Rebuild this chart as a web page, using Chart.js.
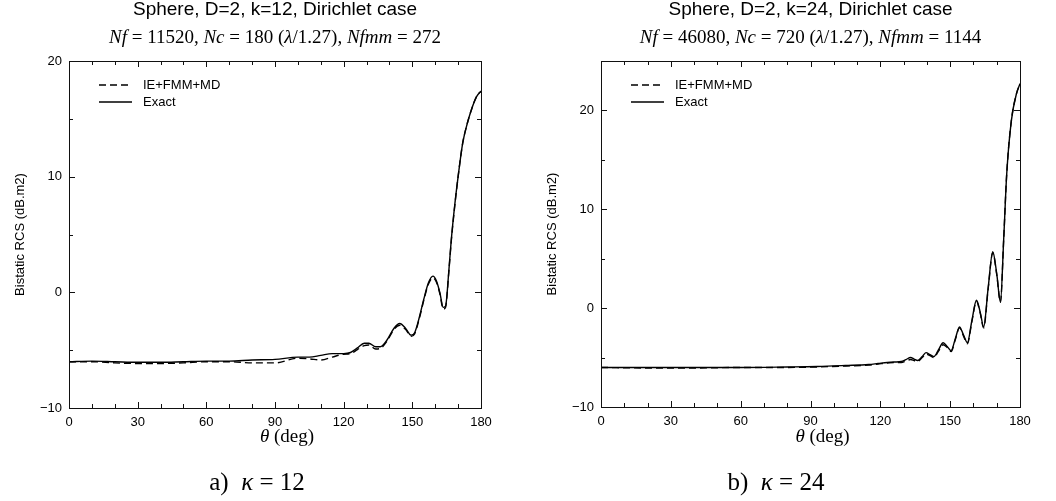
<!DOCTYPE html>
<html>
<head>
<meta charset="utf-8">
<script src="https://cdn.jsdelivr.net/npm/chart.js@4.4.0/dist/chart.umd.min.js"></script>
<style>
  html, body { margin: 0; padding: 0; background: #fff; }
  #wrap { position: relative; width: 1056px; height: 501px; }
  canvas { position: absolute; top: 0; }
</style>
</head>
<body>
<div id="wrap">
  <canvas id="chartA" width="528" height="501" style="left:0"></canvas>
  <canvas id="chartB" width="528" height="501" style="left:528px"></canvas>
</div>
<script>
// --- data, k = 12 ---
const thetaA = [0, 10, 20, 30, 40, 50, 60, 70, 80, 90, 100, 105, 110, 115, 120, 123, 126, 129, 131, 134, 136, 139, 142, 144.5, 147, 149.5, 151, 153, 155, 157, 159, 160.5, 162, 163.5, 164.5, 166, 167, 168.5, 170, 172, 174, 176, 178, 180];
const exactA = [-6.0, -5.95, -6.0, -6.05, -6.05, -6.0, -5.95, -5.95, -5.85, -5.8, -5.6, -5.6, -5.45, -5.3, -5.3, -5.2, -4.8, -4.4, -4.4, -4.7, -4.7, -4.1, -3.1, -2.7, -3.1, -3.7, -3.5, -2.2, -0.6, 0.8, 1.4, 1.0, 0.0, -1.3, -1.2, 2.0, 4.5, 7.5, 10.0, 12.9, 14.6, 15.9, 16.9, 17.4];
const ieA = [-6.0, -6.0, -6.1, -6.15, -6.15, -6.1, -6.0, -6.0, -6.1, -6.1, -5.7, -5.75, -5.85, -5.6, -5.35, -5.3, -4.95, -4.6, -4.55, -4.9, -4.85, -4.2, -3.2, -2.85, -3.2, -3.8, -3.6, -2.3, -0.7, 0.7, 1.25, 0.9, -0.1, -1.45, -1.3, 1.9, 4.4, 7.4, 10.0, 12.9, 14.6, 15.9, 16.9, 17.4];

// --- data, k = 24 ---
const thetaB = [0, 20, 40, 60, 80, 93, 105, 115, 119, 123, 126, 129, 131, 133, 134.5, 136, 138, 139.6, 141.3, 143, 145, 147, 148.8, 150.4, 152.2, 154, 155.7, 157.4, 159.3, 161.3, 162.9, 164.4, 166.3, 168.3, 170, 171.6, 173, 174.3, 176.3, 178.5, 180];
const exactB = [-6.0, -6.0, -6.0, -6.0, -5.95, -5.9, -5.8, -5.7, -5.6, -5.5, -5.45, -5.4, -5.2, -5.0, -5.15, -5.3, -4.9, -4.5, -4.7, -4.9, -4.2, -3.5, -3.9, -4.3, -3.1, -1.9, -2.7, -3.5, -1.3, 0.8, -0.4, -1.9, 2.0, 5.7, 3.5, 0.6, 7.0, 13.6, 19.0, 21.7, 22.7];
const ieB = [-6.0, -6.05, -6.05, -6.0, -6.0, -5.95, -5.85, -5.75, -5.65, -5.55, -5.5, -5.5, -5.35, -5.2, -5.3, -5.4, -5.0, -4.65, -4.8, -5.0, -4.35, -3.7, -4.0, -4.4, -3.2, -2.0, -2.8, -3.6, -1.4, 0.7, -0.5, -2.0, 1.9, 5.6, 3.4, 0.6, 7.0, 13.6, 19.0, 21.7, 22.7];

const SANS = '"Liberation Sans", Helvetica, Arial, sans-serif';
const SERIF = '"Liberation Serif", "Times New Roman", serif';

const pts = (xs, ys) => xs.map((x, i) => ({ x: x, y: ys[i] }));

function drawRich(ctx, segs, cx, cy, size) {
    let w = 0;
    segs.forEach(s => {
        ctx.font = (s[1] ? 'italic ' : '') + size + 'px ' + SERIF;
        w += ctx.measureText(s[0]).width;
    });
    let x = cx - w / 2;
    ctx.textAlign = 'left';
    ctx.textBaseline = 'middle';
    segs.forEach(s => {
        ctx.font = (s[1] ? 'italic ' : '') + size + 'px ' + SERIF;
        ctx.fillText(s[0], x, cy);
        x += ctx.measureText(s[0]).width;
    });
}

// frame, inward ticks on all sides, titles, legend
const decor = {
    id: 'decor',
    afterDraw(chart, args, o) {
        const ctx = chart.ctx;
        const ca = chart.chartArea;
        const xs = chart.scales.x, ys = chart.scales.y;
        const mid = (ca.left + ca.right) / 2;
        ctx.save();
        ctx.strokeStyle = '#111';
        ctx.lineWidth = 1;
        ctx.strokeRect(ca.left + 0.5, ca.top + 0.5, ca.right - ca.left, ca.bottom - ca.top);

        ctx.beginPath();
        xs.ticks.forEach(t => {
            const px = Math.round(xs.getPixelForValue(t.value)) + 0.5;
            const len = t.value % 30 === 0 ? 6 : 4;
            ctx.moveTo(px, ca.bottom); ctx.lineTo(px, ca.bottom - len);
            ctx.moveTo(px, ca.top); ctx.lineTo(px, ca.top + len);
        });
        ys.ticks.forEach(t => {
            const py = Math.round(ys.getPixelForValue(t.value)) + 0.5;
            const len = t.value % 10 === 0 ? 6 : 4;
            ctx.moveTo(ca.left, py); ctx.lineTo(ca.left + len, py);
            ctx.moveTo(ca.right, py); ctx.lineTo(ca.right - len, py);
        });
        ctx.stroke();

        ctx.fillStyle = '#000';
        // title
        ctx.font = '19px ' + SANS;
        ctx.textAlign = 'center';
        ctx.textBaseline = 'middle';
        ctx.fillText(o.title, mid, 10);
        // subtitle
        drawRich(ctx, o.sub, mid, 38, 19);
        // x axis title
        drawRich(ctx, [['θ', true], [' (deg)', false]], mid + 12, 437, 19);
        // caption
        drawRich(ctx, o.caption, o.captionX, 483, 25);
        // y axis title
        ctx.save();
        ctx.translate(ca.left - 49, (ca.top + ca.bottom) / 2);
        ctx.rotate(-Math.PI / 2);
        ctx.font = '13px ' + SANS;
        ctx.textAlign = 'center';
        ctx.textBaseline = 'middle';
        ctx.fillText('Bistatic RCS (dB.m2)', 0, 0);
        ctx.restore();

        // legend
        chart.data.datasets.forEach((ds, i) => {
            const ly = ca.top + 24 + i * 17;
            ctx.beginPath();
            ctx.setLineDash(ds.borderDash || []);
            ctx.lineWidth = ds.borderWidth;
            ctx.strokeStyle = ds.borderColor;
            ctx.moveTo(ca.left + 30, ly);
            ctx.lineTo(ca.left + 63, ly);
            ctx.stroke();
            ctx.setLineDash([]);
            ctx.font = '13px ' + SANS;
            ctx.textAlign = 'left';
            ctx.textBaseline = 'middle';
            ctx.fillText(ds.label, ca.left + 74, ly);
        });
        ctx.restore();
    }
};

function makeChart(id, theta, ie, exact, yMax, pad, decorOpts) {
    return new Chart(document.getElementById(id), {
        type: 'line',
        data: {
            datasets: [
                { label: 'IE+FMM+MD', data: pts(theta, ie), borderColor: '#000', borderWidth: 1.4, borderDash: [7, 4], pointRadius: 0, cubicInterpolationMode: 'monotone' },
                { label: 'Exact', data: pts(theta, exact), borderColor: '#000', borderWidth: 1.4, pointRadius: 0, cubicInterpolationMode: 'monotone' }
            ]
        },
        options: {
            responsive: false,
            animation: false,
            devicePixelRatio: 1,
            layout: { padding: pad },
            plugins: { legend: { display: false }, tooltip: { enabled: false }, decor: decorOpts },
            scales: {
                x: {
                    type: 'linear', min: 0, max: 180,
                    grid: { display: false, drawTicks: false },
                    border: { display: false },
                    ticks: { stepSize: 10, autoSkip: false, maxRotation: 0, padding: 7, color: '#000', font: { family: SANS, size: 13 },
                        callback: v => v % 30 === 0 ? String(v) : '' },
                    afterFit: s => { s.height = 30; }
                },
                y: {
                    min: -10, max: yMax,
                    grid: { display: false, drawTicks: false },
                    border: { display: false },
                    ticks: { stepSize: 5, autoSkip: false, padding: 7, color: '#000', font: { family: SANS, size: 13 },
                        callback: v => v % 10 === 0 ? String(v).replace('-', '\u2212') : '' },
                    afterFit: s => { s.width = 40; }
                }
            }
        },
        plugins: [decor]
    });
}

makeChart('chartA', thetaA, ieA, exactA, 20, { left: 29, right: 47, top: 61, bottom: 63 }, {
    title: 'Sphere, D=2, k=12, Dirichlet case',
    sub: [['Nf', true], [' = 11520, ', false], ['Nc', true], [' = 180 (', false], ['λ', true], ['/1.27), ', false], ['Nfmm', true], [' = 272', false]],
    caption: [['a)  ', false], ['κ', true], [' = 12', false]],
    captionX: 257
});

makeChart('chartB', thetaB, ieB, exactB, 25, { left: 33, right: 36, top: 61, bottom: 64 }, {
    title: 'Sphere, D=2, k=24, Dirichlet case',
    sub: [['Nf', true], [' = 46080, ', false], ['Nc', true], [' = 720 (', false], ['λ', true], ['/1.27), ', false], ['Nfmm', true], [' = 1144', false]],
    caption: [['b)  ', false], ['κ', true], [' = 24', false]],
    captionX: 248
});
</script>
</body>
</html>
